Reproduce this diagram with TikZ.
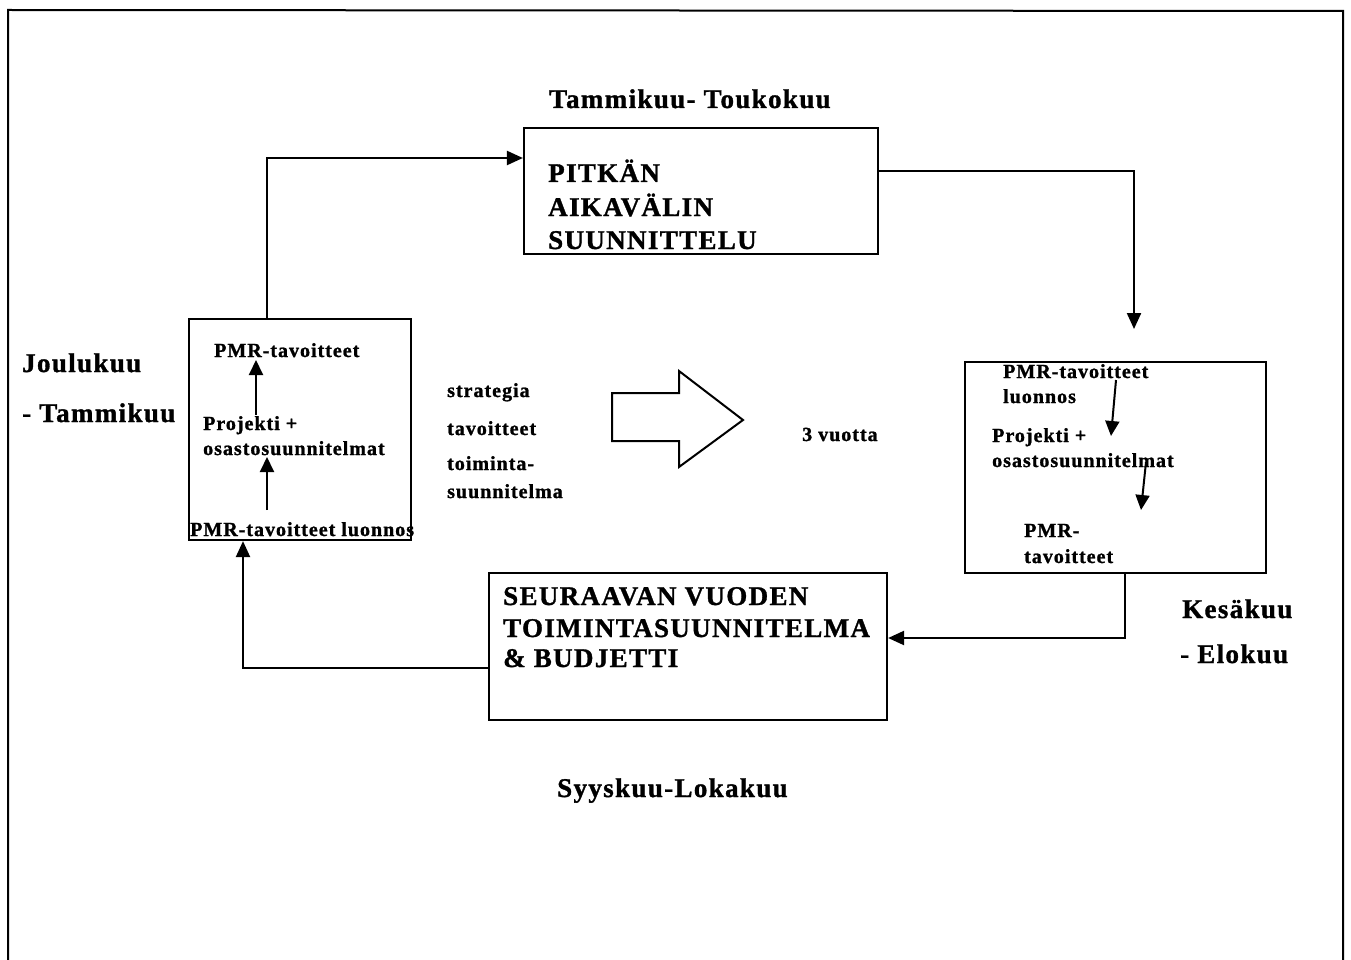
\documentclass[tikz,border=0pt]{standalone}
\usepackage{fontspec}
\setmainfont{Liberation Serif}[LetterSpace=5, BoldFeatures={FakeBold=1.2}]
\usetikzlibrary{arrows.meta}
\begin{document}
\begin{tikzpicture}[x=1pt,y=-1pt,
  box/.style={draw, line width=2.2pt, rectangle, inner sep=0pt},
  big/.style={anchor=base west, inner sep=0pt, font=\bfseries\fontsize{27}{27}\selectfont},
  small/.style={anchor=base west, inner sep=0pt, font=\bfseries\fontsize{20}{20}\selectfont},
  conn/.style={line width=2.2pt, -{Triangle[length=16pt,width=14pt]}},
  thin/.style={line width=2pt, -{Triangle[length=15pt,width=14pt]}}]

\useasboundingbox (0,0) rectangle (1351,960);
% outer frame, open at the bottom
\draw[line width=2pt] (8,975) -- (8,10) -- (1343,11) -- (1343,975);

% the four boxes
\node[box, minimum width=354pt, minimum height=126pt] (tbox) at (701,191) {};
\node[box, minimum width=222pt, minimum height=221pt] (lbox) at (300,429.5) {};
\node[box, minimum width=301pt, minimum height=211pt] (rbox) at (1115.5,467.5) {};
\node[box, minimum width=398pt, minimum height=147pt] (bbox) at (688,646.5) {};

% period labels
\node[big] (t1) at (549,108) {Tammikuu- Toukokuu};
\node[big] (t2) at (22,372) {Joulukuu};
\node[big] (t3) at (22,422) {- Tammikuu};
\node[big] (t4) at (1182,618) {Kesäkuu};
\node[big] (t5) at (1180,663) {- Elokuu};
\node[big] (t6) at (557,797) {Syyskuu-Lokakuu};

% long-range planning box
\node[big] (p1) at (548,182) {PITKÄN};
\node[big] (p2) at (548,216) {AIKAVÄLIN};
\node[big] (p3) at (548,249) {SUUNNITTELU};

% next year's plan box
\node[big] (s1) at (503,605) {SEURAAVAN VUODEN};
\node[big] (s2) at (503,637) {TOIMINTASUUNNITELMA};
\node[big] (s3) at (503,667) {\& BUDJETTI};

% left box contents
\node[small] (l1) at (214,357) {PMR-tavoitteet};
\node[small] (l2) at (203,430) {Projekti +};
\node[small] (l3) at (203,455) {osastosuunnitelmat};
\node[small] (l4) at (190,536) {PMR-tavoitteet luonnos};

% right box contents
\node[small] (r1) at (1003,378) {PMR-tavoitteet};
\node[small] (r2) at (1003,403) {luonnos};
\node[small] (r3) at (992,442) {Projekti +};
\node[small] (r4) at (992,467) {osastosuunnitelmat};
\node[small] (r5) at (1024,537) {PMR-};
\node[small] (r6) at (1024,563) {tavoitteet};

% middle texts
\node[small] (m1) at (447,397) {strategia};
\node[small] (m2) at (447,435) {tavoitteet};
\node[small] (m3) at (447,470) {toiminta-};
\node[small] (m4) at (447,498) {suunnitelma};
\node[small] (m5) at (802,441) {3 vuotta};

% hollow block arrow
\draw[line width=2pt, line join=miter] (612,393) -- (679,393) -- (679,371) -- (743,420)
  -- (679,467) -- (679,441) -- (612,441) -- cycle;

% cycle connectors
\coordinate (c1) at (267,158);
\coordinate (c2) at (1134,171);
\coordinate (c2e) at (1134,329);
\coordinate (c3) at (1125,638);
\coordinate (c4) at (243,668);
\draw[conn] (c1 |- lbox.north) -- (c1) -- (c1 -| tbox.west);
\draw[conn] (c2 -| tbox.east) -- (c2) -- (c2e);
\draw[conn] (c3 |- rbox.south) -- (c3) -- (c3 -| bbox.east);
\draw[conn] (c4 -| bbox.west) -- (c4) -- (c4 |- lbox.south);

% arrows inside the boxes
\coordinate (a1s) at (256,415); \coordinate (a1e) at (256,360);
\coordinate (a2s) at (267,510); \coordinate (a2e) at (267,457);
\coordinate (a3s) at (1116,380); \coordinate (a3e) at (1111,436);
\coordinate (a4s) at (1146,462); \coordinate (a4e) at (1141,510);
\draw[thin] (a1s) -- (a1e);
\draw[thin] (a2s) -- (a2e);
\draw[thin] (a3s) -- (a3e);
\draw[thin] (a4s) -- (a4e);
\end{tikzpicture}
\end{document}
